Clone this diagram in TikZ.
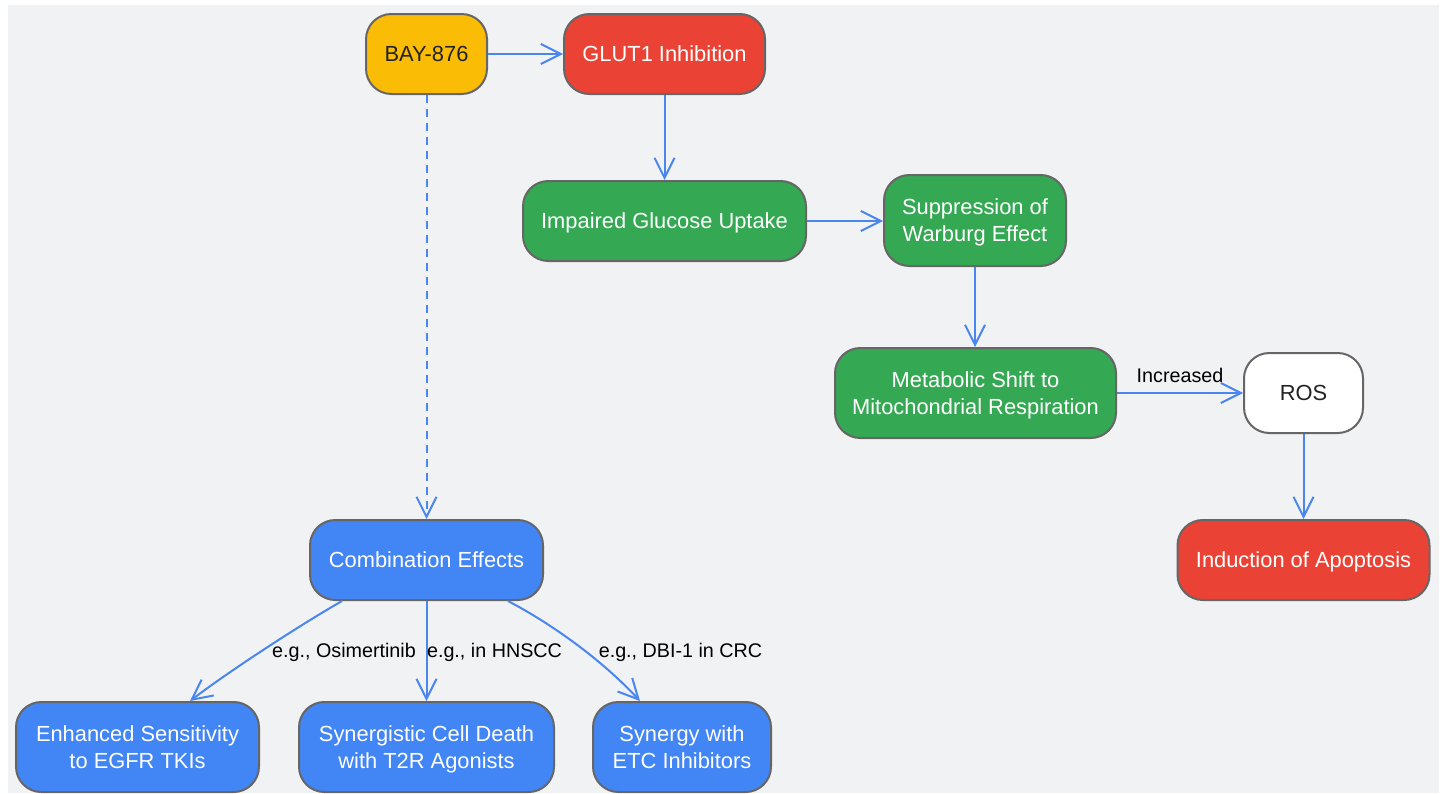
\documentclass[tikz,border=0pt]{standalone}
\usepackage{fontspec}
\setmainfont{Liberation Sans}
\usetikzlibrary{arrows.meta,calc}
\definecolor{bgc}{HTML}{F1F2F4}
\definecolor{yel}{HTML}{FBBC05}
\definecolor{red1}{HTML}{EA4335}
\definecolor{grn}{HTML}{34A853}
\definecolor{blu}{HTML}{4285F4}
\definecolor{edge}{HTML}{4A86F0}
\definecolor{bord}{HTML}{666666}
\definecolor{txtdark}{HTML}{222222}
\newlength\pxu
\pxu=0.75pt
\tikzset{
  box/.style={draw=bord, line width=1.5pt, rounded corners=19pt, inner sep=0pt,
    align=center, text depth=0pt, font=\fontsize{16.4}{20.25}\selectfont},
  ybox/.style={box, fill=yel, text=txtdark},
  rbox/.style={box, fill=red1, text=white},
  gbox/.style={box, fill=grn, text=white},
  bbox/.style={box, fill=blu, text=white},
  wbox/.style={box, fill=white, text=txtdark},
  arr/.style={draw=edge, line width=1.5pt, -{Straight Barb[length=15pt, width=15pt, line width=1.5pt]}},
  elabel/.style={font=\fontsize{14.8}{18}\selectfont, text=black, inner sep=1pt},
}
\begin{document}
\begin{tikzpicture}[x=0.75pt, y=-0.75pt]
\useasboundingbox (0,0) rectangle (1445,793);
\fill[white] (0,0) rectangle (1445,793);
\fill[bgc] (8,5) rectangle (1439,793);

\node[ybox, minimum width=121*\pxu, minimum height=80*\pxu] (bay) at (426.5,54) {BAY-876};
\node[rbox, minimum width=201*\pxu, minimum height=80*\pxu] (glut) at (664.5,54) {GLUT1 Inhibition};
\node[gbox, minimum width=283*\pxu, minimum height=80*\pxu] (imp) at (664.5,221) {Impaired Glucose Uptake};
\node[gbox, minimum width=182*\pxu, minimum height=91*\pxu] (sup) at (975,220.5) {Suppression of\\Warburg Effect};
\node[gbox, minimum width=281*\pxu, minimum height=90*\pxu] (met) at (975.5,393) {Metabolic Shift to\\Mitochondrial Respiration};
\node[wbox, minimum width=119*\pxu, minimum height=80*\pxu] (ros) at (1303.5,393) {ROS};
\node[rbox, minimum width=252*\pxu, minimum height=80*\pxu] (apo) at (1303.5,560) {Induction of Apoptosis};
\node[bbox, minimum width=233*\pxu, minimum height=80*\pxu] (comb) at (426.5,560) {Combination Effects};
\node[bbox, minimum width=243*\pxu, minimum height=90*\pxu] (enh) at (137.5,747) {Enhanced Sensitivity\\to EGFR TKIs};
\node[bbox, minimum width=255*\pxu, minimum height=90*\pxu] (syn) at (426.5,747) {Synergistic Cell Death\\with T2R Agonists};
\node[bbox, minimum width=178*\pxu, minimum height=90*\pxu] (etc) at (682,747) {Synergy with\\ETC Inhibitors};

\draw[arr] (bay) -- (glut);
\draw[arr] (glut) -- (imp);
\draw[arr] (imp.east) -- (sup.west |- imp.east);
\draw[arr] (sup) -- (sup |- met.north);
\draw[arr] (met) -- (ros);
\draw[arr] (ros) -- (apo);
\draw[arr, dash pattern=on 6pt off 4.5pt] (bay) -- (comb);

\coordinate (cl) at ($(comb.south)+(-84.5,0)$);
\coordinate (cr) at ($(comb.south)+(81.5,0)$);
\coordinate (el) at ($(enh.north)+(52.5,0)$);
\coordinate (er) at ($(etc.north)+(-42,0)$);
\draw[arr] (cl) .. controls (300,625) and (228,672) .. (el);
\draw[arr] (comb) -- (syn);
\draw[arr] (cr) .. controls (552,624) and (602,660) .. (er);

\node[elabel] (l1) at (344,652) {e.g., Osimertinib};
\node[elabel] (l2) at (494.5,652) {e.g., in HNSCC};
\node[elabel] (l3) at (680.5,652) {e.g., DBI-1 in CRC};
\node[elabel] (l4) at (1180,375) {Increased};
\end{tikzpicture}
\end{document}
